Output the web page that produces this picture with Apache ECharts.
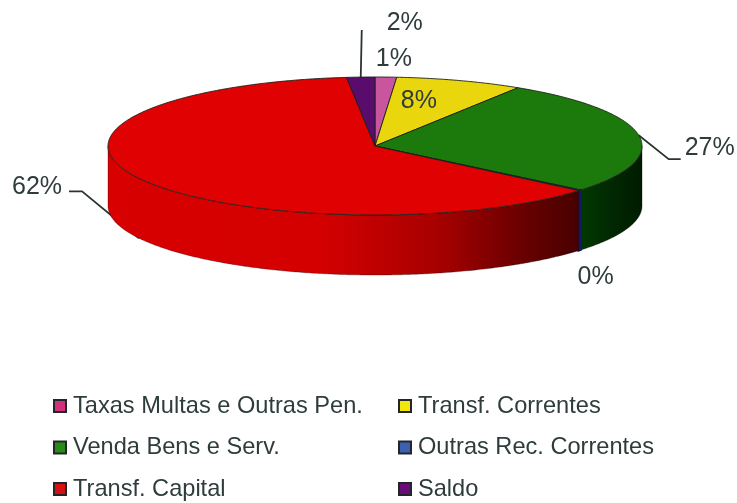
<!DOCTYPE html>
<html>
<head>
<meta charset="utf-8">
<style>html,body{margin:0;padding:0;background:#fff}#c{width:737px;height:503px}</style>
<script src="https://cdn.jsdelivr.net/npm/echarts@6/dist/echarts.min.js"></script>
</head>
<body>
<div id="c"></div>
<script>
const sliceNames = ['Taxas Multas e Outras Pen.', 'Transf. Correntes', 'Venda Bens e Serv.', 'Outras Rec. Correntes', 'Transf. Capital', 'Saldo'];
const sliceValues = [1.3, 7.7, 27, 0.2, 62.1, 1.7];
const legendLeft = ['Taxas Multas e Outras Pen.', 'Venda Bens e Serv.', 'Transf. Capital'];
const legendRight = ['Transf. Correntes', 'Outras Rec. Correntes', 'Saldo'];

const topColors = ['#c9559f', '#e9d60c', '#1c7a0c', '#20307c', '#e00202', '#5a0c6c'];
const legendColors = ['#d0307c', '#f2e60a', '#2a8a1a', '#3a62b0', '#d81010', '#6a0c78'];
const wallStops = [
  [[0, '#8a3a70'], [1, '#8a3a70']],
  [[0, '#8a7a08'], [1, '#8a7a08']],
  [[0, '#013a01'], [0.5, '#012801'], [1, '#001c00']],
  [[0, '#141a5a'], [1, '#141a5a']],
  [[0, '#d80000'], [0.45, '#d40000'], [0.7, '#a80000'], [0.88, '#6a0000'], [1, '#480000']],
  [[0, '#3a0848'], [1, '#3a0848']]
];

const cx = 375, cy = 146, rx = 267, ry = 69, depth = 60;
const inkLine = '#2b3333', inkText = '#2f3c3c';
// label / leader placement per slice, relative to the slice's mid-angle anchor
const placement = {
  0: { text: [8, -18] },
  1: { text: [-41, 21] },
  2: { text: [71, 13], leader: [[30, 24], [42, 24]] },
  3: { text: [16, 27], wall: true },
  4: { text: [-102, -51], wall: true, leader: [[-57, -47], [-70, -47]] },
  5: { text: [44, -54], leader: [[1, -47]] }
};

const total = sliceValues.reduce((a, b) => a + b, 0);
const cumulative = sliceValues.reduce((acc, v) => { acc.push(acc[acc.length - 1] + v); return acc; }, [0]);
const ang = v => v / total * Math.PI * 2;
const pt = (t, dy) => [cx + rx * Math.sin(t), cy - ry * Math.cos(t) + (dy || 0)];

function arc(a, b, dy) {
  const n = Math.max(2, Math.ceil((b - a) / 0.01));
  const out = [];
  for (let i = 0; i <= n; i++) out.push(pt(a + (b - a) * i / n, dy));
  return out;
}

function renderSlice(idx) {
  return function (params, api) {
    const value = api.value(0);
    const a = ang(cumulative[idx]);
    const b = a + ang(value);
    const mid = (a + b) / 2;
    const place = placement[idx];
    const children = [];
    const anchor = pt(mid, place.wall ? depth : 0);

    if (place.leader) {
      const pts = [anchor].concat(place.leader.map(o => [anchor[0] + o[0], anchor[1] + o[1]]));
      children.push({ type: 'polyline', shape: { points: pts }, style: { stroke: inkLine, lineWidth: 1.8, fill: null } });
    }

    // front wall: only the part of the slice in the lower half of the ellipse
    const wa = Math.max(a, Math.PI / 2), wb = Math.min(b, Math.PI * 1.5);
    if (wb > wa) {
      const upper = arc(wa, wb, 0);
      const lower = arc(wa, wb, depth).reverse();
      children.push({
        type: 'polygon',
        shape: { points: upper.concat(lower) },
        style: {
          fill: {
            type: 'linear', global: true,
            x: idx === 2 ? pt(wb)[0] : cx - rx, y: 0, x2: idx === 2 ? cx + rx : pt(wa)[0], y2: 0,
            colorStops: wallStops[idx].map(s => ({ offset: s[0], color: s[1] }))
          },
          stroke: idx === 3 ? '#141a6a' : 'rgba(20,0,0,0.55)',
          lineWidth: idx === 3 ? 2 : 0.6
        }
      });
    }

    // top face
    children.push({
      type: 'polygon',
      shape: { points: [[cx, cy]].concat(arc(a, b, 0)) },
      style: { fill: topColors[idx], stroke: '#1c2018', lineWidth: 0.9, lineJoin: 'round' }
    });

    children.push({
      type: 'text',
      z2: 10,
      style: {
        text: Math.round(value / total * 100) + '%',
        x: anchor[0] + place.text[0],
        y: anchor[1] + place.text[1],
        align: 'center',
        verticalAlign: 'middle',
        fill: inkText,
        font: '25px "Liberation Sans", Arial, sans-serif'
      }
    });
    return { type: 'group', children };
  };
}

const chart = echarts.init(document.getElementById('c'), null, { renderer: 'canvas' });
const legendBase = {
  orient: 'vertical',
  icon: 'rect',
  itemWidth: 12,
  itemHeight: 12,
  itemGap: 17.5,
  selectedMode: false,
  padding: 0,
  textStyle: { color: inkText, fontSize: 23.6, fontFamily: '"Liberation Sans", Arial, sans-serif', padding: [0, 0, 0, 2] },
  itemStyle: { borderColor: '#22262a', borderWidth: 2 }
};
chart.setOption({
  animation: false,
  backgroundColor: '#ffffff',
  legend: [
    Object.assign({}, legendBase, { left: 53, top: 394, data: legendLeft }),
    Object.assign({}, legendBase, { left: 398, top: 394, data: legendRight })
  ],
  // draw order keeps later slices' faces over earlier edges
  series: sliceNames.map((name, i) => ({
    type: 'custom',
    name: name,
    coordinateSystem: 'none',
    renderItem: renderSlice(i),
    silent: true,
    itemStyle: { color: legendColors[i] },
    data: [[sliceValues[i]]]
  }))
});
</script>
</body>
</html>
